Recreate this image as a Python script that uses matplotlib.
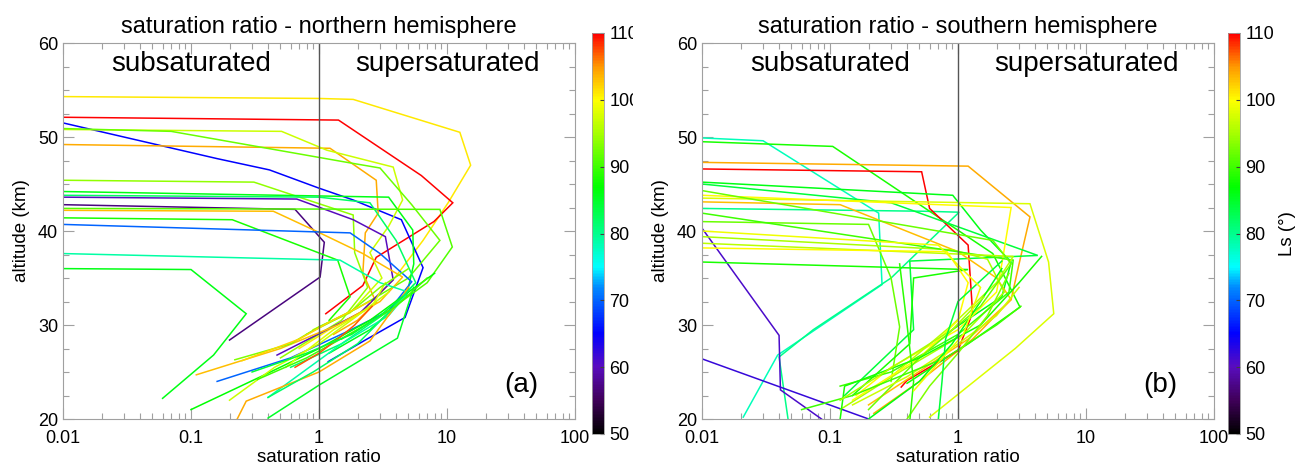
import matplotlib
matplotlib.use("Agg")
import matplotlib.pyplot as plt
from matplotlib.colors import LinearSegmentedColormap, Normalize
from matplotlib.cm import ScalarMappable
from matplotlib.patches import Rectangle
from matplotlib.ticker import MultipleLocator, LogLocator, NullFormatter, FixedFormatter, FixedLocator

plt.rcParams['font.family'] = ['Liberation Sans', 'DejaVu Sans']

# Ls (deg) of each profile, northern hemisphere
north_ls = [101, 110, 65, 104, 97, 92, 94, 86, 82, 57, 60, 91, 103, 88, 70, 79, 86,
            87, 97, 104, 85, 98, 93, 82, 90, 107, 102, 84]
north_x = [
    [0.01, 1.0, 1.85, 12.6, 15.3, 10.2, 6.5, 3.8, 2.2, 1.2, 0.7],
    [0.01, 1.42, 6.3, 11.1, 7.9, 2.8, 2.2, 1.13],
    [0.01, 0.16, 0.41, 0.98, 1.85, 4.4, 6.5, 4.7, 2.3, 1.18],
    [0.01, 1.22, 2.8, 2.9, 2.3, 2.2, 2.8, 2.0, 1.3],
    [0.01, 0.51, 1.15, 3.8, 4.5, 3.5, 2.5, 3.1, 1.75, 0.9],
    [0.01, 0.07, 1.66, 3.0, 5.3, 8.8, 5.0, 2.0, 0.8],
    [0.01, 0.31, 1.85, 1.9, 2.4, 1.5, 0.5],
    [0.01, 3.5, 5.4, 5.5, 4.8, 2.5, 1.2],
    [0.01, 1.0, 2.5, 4.0, 5.7, 3.5, 1.5, 0.6],
    [0.01, 0.65, 1.1, 1.02, 0.2],
    [0.01, 0.67, 1.85, 3.3, 3.8, 2.1, 0.47],
    [0.01, 8.8, 11.0, 7.0, 3.5, 1.5],
    [0.01, 0.44, 0.98, 2.2, 4.5, 3.0, 1.4, 0.5, 0.11],
    [0.01, 0.21, 1.4, 1.75, 1.2],
    [0.01, 1.75, 3.0, 5.3, 3.5, 1.66, 0.6, 0.16],
    [0.01, 1.46, 3.0, 5.0, 3.5, 1.5, 0.4],
    [0.01, 0.1, 0.27, 0.15, 0.06],
    [0.1, 0.35, 1.0, 2.5, 5.0, 8.0],
    [0.2, 0.45, 1.0, 2.0, 3.5],
    [0.22, 0.27, 1.0, 2.5, 4.2, 5.0],
    [0.4, 1.0, 4.1, 4.8, 5.5],
    [0.55, 0.75, 1.3, 2.6, 3.3],
    [0.22, 0.6, 1.0, 1.8, 3.0, 5.0],
    [0.4, 0.9, 2.0, 3.6, 5.5],
    [0.33, 0.8, 2.0, 4.0, 7.0],
    [0.65, 1.0, 1.4, 1.9, 2.6],
    [0.25, 0.7, 1.2, 2.5],
    [0.3, 0.8, 1.8, 3.0, 4.5],
]
north_alt = [
    [54.3, 54.1, 54.0, 50.5, 47.0, 43.0, 39.0, 34.8, 31.5, 29.5, 27.5],
    [52.1, 51.8, 45.9, 43.0, 41.0, 37.2, 34.2, 31.2],
    [51.5, 47.7, 46.5, 44.6, 43.3, 41.2, 36.1, 30.8, 28.4, 26.1],
    [49.2, 48.8, 45.4, 41.9, 39.8, 35.5, 32.4, 30.5, 29.0],
    [50.8, 50.6, 48.6, 46.8, 43.3, 40.5, 37.7, 35.0, 31.3, 29.5],
    [50.9, 50.6, 47.3, 46.7, 42.8, 39.0, 35.0, 31.8, 29.0],
    [45.4, 45.2, 41.7, 37.7, 34.0, 30.5, 26.5],
    [44.2, 43.6, 40.1, 36.5, 33.0, 29.5, 27.0],
    [43.8, 43.6, 43.0, 39.0, 34.5, 31.5, 28.0, 25.5],
    [42.8, 42.3, 38.8, 35.1, 28.4],
    [43.6, 43.4, 41.2, 39.4, 34.8, 31.3, 26.8],
    [42.4, 42.3, 38.3, 34.5, 31.5, 28.5],
    [42.2, 42.1, 39.9, 37.6, 35.1, 32.5, 30.0, 27.5, 24.7],
    [41.4, 41.2, 36.9, 33.0, 30.5],
    [40.7, 39.8, 37.6, 34.6, 31.5, 29.3, 26.5, 24.0],
    [37.6, 36.9, 34.5, 33.5, 31.0, 28.0, 22.3],
    [36.0, 35.9, 31.2, 26.8, 22.2],
    [21.0, 24.5, 27.5, 30.5, 33.5, 35.5],
    [22.0, 25.5, 28.0, 31.0, 33.5],
    [19.5, 21.9, 25.0, 28.3, 32.5, 34.0],
    [20.1, 23.6, 28.6, 31.5, 34.0],
    [25.5, 27.0, 29.5, 32.0, 34.5],
    [26.3, 28.0, 29.8, 31.5, 34.0, 36.0],
    [22.3, 25.0, 28.0, 31.5, 34.3],
    [24.2, 26.5, 29.5, 32.0, 35.0],
    [25.5, 27.0, 28.5, 30.0, 32.0],
    [26.2, 28.5, 30.3, 32.5],
    [25.0, 27.0, 29.0, 31.0, 33.0],
]

# Ls (deg) of each profile, southern hemisphere
south_ls = [78, 80, 88, 104, 110, 86, 84, 98, 100, 103, 61, 62, 92, 95, 90, 88,
            96, 100, 92, 88, 97, 90, 93, 86, 95, 84, 89, 99]
south_x = [
    [0.01, 0.03, 0.24, 0.255, 0.039, 0.021],
    [0.01, 0.55, 1.02, 0.3, 0.074, 0.04, 0.047],
    [0.01, 0.105, 1.87, 3.05, 1.2, 0.4],
    [0.01, 1.2, 3.65, 3.0, 2.6, 1.3, 0.5, 0.22],
    [0.01, 0.52, 0.6, 1.2, 1.3, 1.0, 0.4, 0.36],
    [0.01, 0.91, 1.5, 2.6, 2.2, 0.9],
    [0.01, 0.3, 4.2, 0.42, 0.45, 0.13],
    [0.01, 3.65, 5.1, 5.6, 2.8, 0.6],
    [0.01, 2.6, 2.2, 2.0, 1.0, 0.3, 0.16],
    [0.01, 0.12, 1.0, 2.0, 2.6, 1.2, 0.2],
    [0.01, 0.04, 0.041, 0.09],
    [0.01, 0.21],
    [0.01, 0.2, 0.3, 0.35, 0.3],
    [0.01, 0.9, 1.7, 2.3, 1.1, 0.35, 0.12],
    [0.01, 2.7, 2.5, 1.0, 0.3, 0.12],
    [0.01, 1.2, 0.45, 0.42, 0.15],
    [0.01, 2.7, 2.0, 0.9, 0.3],
    [0.01, 0.82, 1.2, 1.0, 0.5, 0.15],
    [0.01, 1.87, 2.6, 1.5, 0.5, 0.2],
    [0.12, 0.13, 0.5, 1.5, 3.0, 4.5],
    [0.15, 0.4, 1.0, 2.0, 3.0],
    [0.06, 0.15, 0.8, 2.0, 3.1],
    [0.4, 0.6, 1.0, 1.7, 2.5],
    [0.2, 0.5, 0.9, 1.5, 2.2],
    [0.12, 0.35, 0.9, 1.6],
    [0.7, 0.75, 0.8, 1.0, 2.2],
    [0.42, 0.45, 0.4, 0.35],
    [0.01, 0.7, 1.5, 1.1, 0.45],
]
south_alt = [
    [49.9, 49.6, 41.9, 34.3, 26.8, 20.2],
    [42.4, 42.1, 42.0, 35.0, 29.5, 26.6, 20.0],
    [49.5, 49.0, 37.6, 31.9, 28.0, 23.8],
    [47.3, 46.9, 41.5, 36.5, 32.7, 28.5, 24.0, 20.6],
    [46.6, 46.3, 42.4, 38.5, 31.3, 27.3, 24.1, 23.4],
    [45.2, 43.8, 40.1, 36.7, 33.0, 29.5],
    [45.0, 43.0, 37.4, 36.8, 29.5, 22.5],
    [43.5, 42.9, 36.7, 31.2, 27.5, 20.2],
    [43.8, 42.5, 36.5, 33.5, 29.5, 25.5, 22.5],
    [43.1, 42.8, 37.8, 35.0, 32.7, 28.5, 21.5],
    [40.3, 28.9, 23.1, 19.8],
    [26.4, 19.9],
    [41.0, 40.7, 35.0, 29.8, 24.0],
    [39.4, 38.0, 37.0, 33.5, 29.0, 25.0, 21.0],
    [41.9, 36.9, 33.5, 29.0, 25.0, 23.5],
    [36.7, 35.9, 35.0, 28.0, 22.5],
    [38.7, 37.3, 34.5, 30.0, 24.5],
    [38.2, 37.8, 34.5, 30.5, 26.5, 22.0],
    [44.3, 39.0, 36.5, 32.0, 26.5, 21.0],
    [20.0, 23.5, 26.5, 30.0, 34.5, 37.3],
    [21.5, 24.5, 28.0, 31.0, 34.0],
    [21.0, 22.5, 26.5, 30.0, 32.0],
    [20.0, 23.5, 27.0, 31.0, 35.5],
    [20.0, 24.0, 28.0, 32.5, 36.0],
    [22.0, 26.0, 29.5, 33.0],
    [19.8, 24.0, 28.5, 32.5, 36.8],
    [19.8, 24.0, 30.0, 36.5],
    [40.0, 38.5, 34.0, 29.0, 23.0],
]

# IDL-like rainbow with black at the bottom
cmap_ls = [50, 55, 60, 65, 72, 75, 80, 87, 95, 100, 105, 110]
cmap_rgb = [(0, 0, 0), (0.25, 0.0, 0.35), (0.35, 0.05, 0.75), (0.0, 0.0, 1.0),
            (0.0, 0.55, 1.0), (0.0, 1.0, 1.0), (0.0, 1.0, 0.55), (0.0, 1.0, 0.0),
            (0.65, 1.0, 0.0), (1.0, 1.0, 0.0), (1.0, 0.6, 0.0), (1.0, 0.0, 0.0)]
cmap = LinearSegmentedColormap.from_list(
    "idl", [((v - 50) / 60, c) for v, c in zip(cmap_ls, cmap_rgb)])
norm = Normalize(50, 110)

W, H = 1297, 466
fig = plt.figure(figsize=(W / 100, H / 100), dpi=100)

frame = '#a0a0a0'


def panel(left, xs, alts, lss, title, tag):
    ax = fig.add_axes([left / W, 47 / H, 512 / W, 376 / H])
    for x, a, ls in zip(xs, alts, lss):
        ax.plot(x, a, color=cmap(norm(ls)), lw=1.1, solid_joinstyle='miter')
    ax.axvline(1, color='#555555', lw=1)
    ax.set_xscale('log')
    ax.set_xlim(0.01, 100)
    ax.set_ylim(20, 60)
    ax.xaxis.set_major_locator(FixedLocator([0.01, 0.1, 1, 10, 100]))
    ax.xaxis.set_major_formatter(FixedFormatter(['0.01', '0.1', '1', '10', '100']))
    ax.xaxis.set_minor_locator(LogLocator(base=10, subs=range(2, 10)))
    ax.xaxis.set_minor_formatter(NullFormatter())
    ax.yaxis.set_major_locator(MultipleLocator(10))
    ax.yaxis.set_minor_locator(MultipleLocator(2.5))
    ax.tick_params(which='both', direction='in', top=True, right=True,
                   color=frame, labelsize=13)
    ax.tick_params(which='major', length=8, width=0.8)
    ax.tick_params(which='minor', length=4, width=0.8)
    ax.tick_params(axis='x', pad=8)
    for s in ax.spines.values():
        s.set_color(frame)
    ax.set_xlabel('saturation ratio', fontsize=13.5, labelpad=1)
    ax.set_ylabel('altitude (km)', fontsize=13.5, labelpad=6)
    ax.set_title(title, fontsize=17, pad=7)
    ax.text(0.1, 57.8, 'subsaturated', fontsize=20, ha='center', va='center')
    ax.text(10, 57.8, 'supersaturated', fontsize=20, ha='center', va='center')
    ax.text(38, 23.6, tag, fontsize=20, ha='center', va='center')
    return ax


panel(63, north_x, north_alt, north_ls, 'saturation ratio - northern hemisphere', '(a)')
panel(702, south_x, south_alt, south_ls, 'saturation ratio - southern hemisphere', '(b)')

sm = ScalarMappable(norm=norm, cmap=cmap)
for cl, lab in [(592, None), (1228, 'Ls (°)')]:
    cax = fig.add_axes([cl / W, 32 / H, 12 / W, 401 / H])
    cb = fig.colorbar(sm, cax=cax, ticks=[50, 60, 70, 80, 90, 100, 110])
    cb.outline.set_edgecolor(frame)
    cb.outline.set_linewidth(0.6)
    cax.tick_params(direction='in', length=3, color='#404040', labelsize=13, pad=4)
    if lab:
        cb.set_label(lab, fontsize=13.5, labelpad=2)

# the left colour bar labels are cut off by the second panel
fig.patches.append(Rectangle((633 / W, 0), 13 / W, 1, transform=fig.transFigure,
                             facecolor='white', edgecolor='none', zorder=5))

fig.savefig('out.png', dpi=100)
